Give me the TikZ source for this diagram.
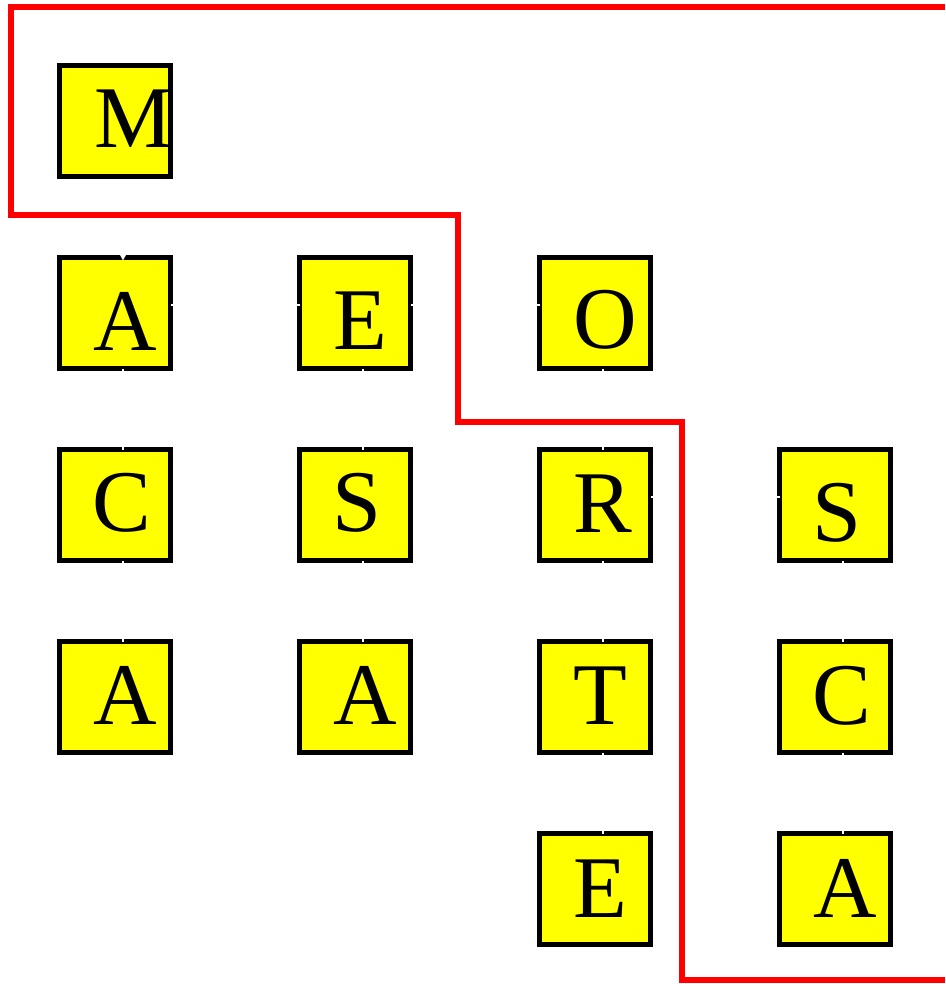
\documentclass[tikz,border=0pt]{standalone}
\usepackage{fontspec}
\usetikzlibrary{arrows.meta}
\setmainfont{Liberation Serif}
\definecolor{tilefill}{RGB}{255,255,0}
\definecolor{fencered}{RGB}{255,0,0}
\begin{document}
\begin{tikzpicture}[x=1pt,y=-1pt,
  tile/.style={draw=black, fill=tilefill, line width=4.6pt, minimum size=111pt,
    inner sep=0pt, outer sep=0pt},
  glyph/.style={anchor=base, inner sep=0pt, font=\fontsize{88}{88}\selectfont},
  link/.style={draw=white, line width=2pt},
  fence/.style={draw=fencered, line width=6.5pt, line join=miter}]
\useasboundingbox (0,0) rectangle (945,984);
% tiles: columns at 115, 355, 595, 835; rows every 192pt
\newcommand{\tileat}[3]{\node[tile] (#1) at (#2,#3) {};}
\tileat{m}{115}{121}
\tileat{a1}{115}{313}
\tileat{c1}{115}{505}
\tileat{a2}{115}{697}
\tileat{e1}{355}{313}
\tileat{s1}{355}{505}
\tileat{a3}{355}{697}
\tileat{o1}{595}{313}
\tileat{r1}{595}{505}
\tileat{t1}{595}{697}
\tileat{e2}{595}{889}
\tileat{s2}{835}{505}
\tileat{c2}{835}{697}
\tileat{a4}{835}{889}
% white links between neighbouring tiles, slightly off the tile centres
\newcommand{\vlink}[2]{\draw[link] ([xshift=8pt]#1.south) -- ([xshift=8pt]#2.north);}
\newcommand{\hlink}[2]{\draw[link] ([yshift=8pt]#1.east) -- ([yshift=8pt]#2.west);}
\draw[link, -{Triangle[width=6pt,length=6pt]}, shorten >=-3pt]
  ([xshift=8pt,yshift=-6pt]m.south) -- ([xshift=8pt]a1.north);
\vlink{a1}{c1}
\vlink{c1}{a2}
\hlink{a1}{e1}
\vlink{e1}{s1}
\vlink{s1}{a3}
\hlink{e1}{o1}
\vlink{o1}{r1}
\vlink{r1}{t1}
\vlink{t1}{e2}
\hlink{r1}{s2}
\vlink{s2}{c2}
\vlink{c2}{a4}
% letters, placed on their baselines
\node[glyph] (lm)  at (134,148) {M};
\node[glyph] (la1) at (125,350) {A};
\node[glyph] (le1) at (360,349) {E};
\node[glyph] (lo1) at (605,348) {O};
\node[glyph] (lc1) at (122,531) {C};
\node[glyph] (ls1) at (357,531) {S};
\node[glyph] (lr1) at (603,532) {R};
\node[glyph] (ls2) at (837,541) {S};
\node[glyph] (la2) at (125,724) {A};
\node[glyph] (la3) at (365,724) {A};
\node[glyph] (lt1) at (600,724) {T};
\node[glyph] (lc2) at (842,724) {C};
\node[glyph] (le2) at (600,917) {E};
\node[glyph] (la4) at (845,917) {A};
% red staircase boundary
\coordinate (f0) at (945,7);
\coordinate (f1) at (11,7);
\coordinate (f2) at (11,215);
\coordinate (f3) at (458,215);
\coordinate (f4) at (458,422);
\coordinate (f5) at (682,422);
\coordinate (f6) at (682,980);
\coordinate (f7) at (945,980);
\draw[fence] (f0) -- (f1) -- (f2) -- (f3) -- (f4) -- (f5) -- (f6) -- (f7);
\end{tikzpicture}
\end{document}
